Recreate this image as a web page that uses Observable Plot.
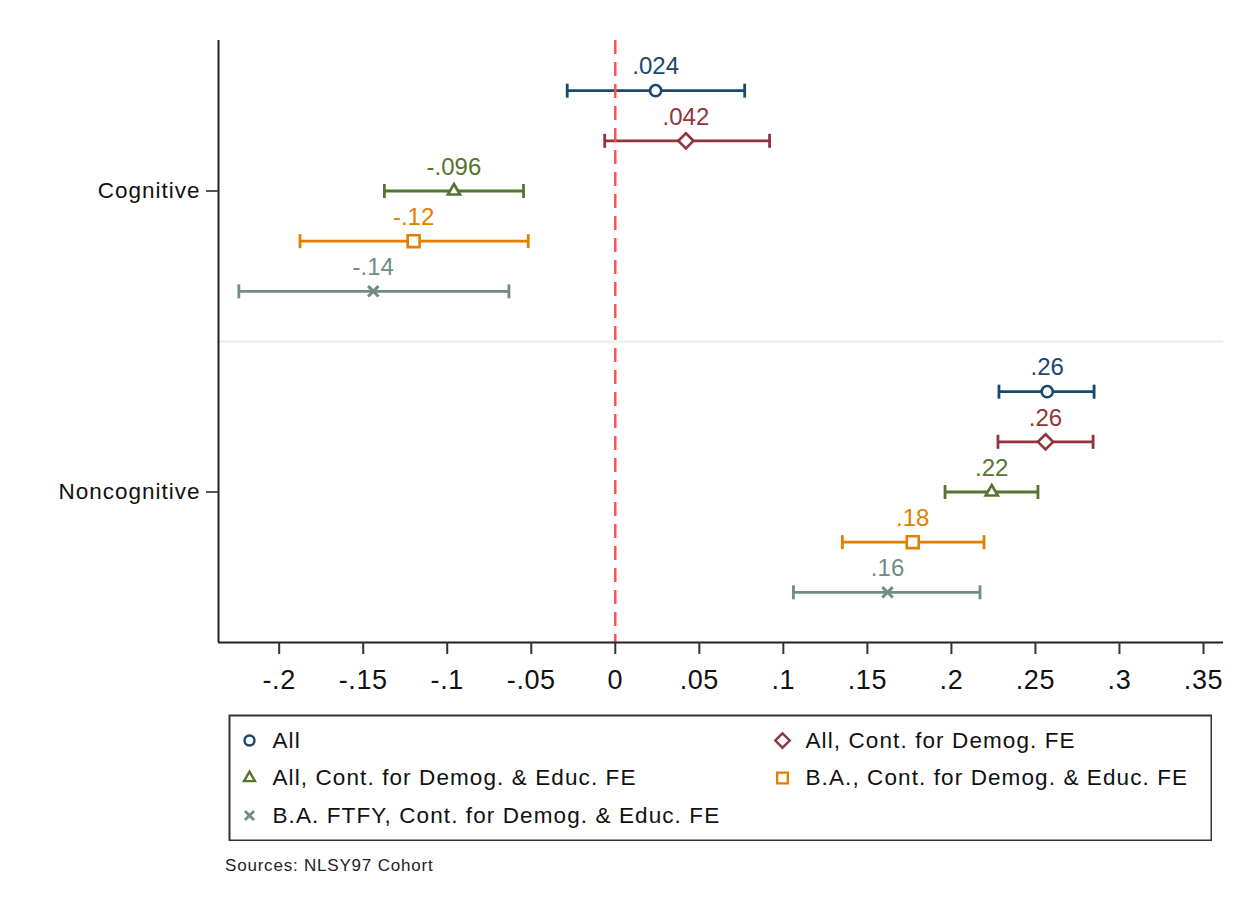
<!DOCTYPE html>
<html>
<head>
<meta charset="utf-8">
<script src="https://cdn.jsdelivr.net/npm/d3@7"></script>
<script src="https://cdn.jsdelivr.net/npm/@observablehq/plot@0.6"></script>
<style>
  body { margin: 0; background: #fff; font-family: "Liberation Sans", Arial, sans-serif; }
  #chart { width: 1250px; }
  #chart [aria-label="y-axis tick label"] text { letter-spacing: 1px; }
  #chart [aria-label="x-axis tick label"] text { letter-spacing: 0.6px; }
  #legend { margin: 9px 0 0 228px; }
  #legend text { letter-spacing: 1.1px; }
  #source { margin: 15px 0 0 225px; font-size: 17px; color: #222; letter-spacing: 0.8px; }
</style>
</head>
<body>
<div id="chart"></div>
<div id="legend"></div>
<div id="source">Sources: NLSY97 Cohort</div>
<script>
const outcomes = ["Cognitive", "Noncognitive"];
const series = [
  "All",
  "All, Cont. for Demog. FE",
  "All, Cont. for Demog. & Educ. FE",
  "B.A., Cont. for Demog. & Educ. FE",
  "B.A. FTFY, Cont. for Demog. & Educ. FE"
];
const colors = ["#1a476f", "#90353b", "#55752f", "#e37e00", "#6e8e84"];
const symbols = ["circle", "diamond2", "triangle2", "square2", "times"];
const symbolR = [5.6, 6.8, 5.8, 7.6, 4.8];
const legendR = [5, 6.5, 5.2, 6.8, 4.2];

// point estimates and 95% CI
const cogEst = [0.024, 0.042, -0.096, -0.120, -0.144];
const cogLo  = [-0.0286, -0.0063, -0.1374, -0.1876, -0.2240];
const cogHi  = [0.0770, 0.0918, -0.0546, -0.0518, -0.0633];
const nonEst = [0.257, 0.256, 0.224, 0.177, 0.162];
const nonLo  = [0.2283, 0.2277, 0.1962, 0.1351, 0.1060];
const nonHi  = [0.2849, 0.2843, 0.2515, 0.2194, 0.2170];

const xTicks = [-0.2, -0.15, -0.1, -0.05, 0, 0.05, 0.1, 0.15, 0.2, 0.25, 0.3, 0.35];
const xDomain = [-0.2361, 0.3619];
const yDomain = [-3, 9];

// stata style numbers: no leading zero, plain hyphen
const stata = v => v === 0 ? "0" : d3.format(".2")(v).replace("−", "-").replace("0.", ".");

const rows = [];
outcomes.forEach((o, oi) => {
  const est = oi ? nonEst : cogEst, lo = oi ? nonLo : cogLo, hi = oi ? nonHi : cogHi;
  series.forEach((s, si) => {
    rows.push({outcome: o, series: s, si, est: est[si], lo: lo[si], hi: hi[si], pos: oi * 6 + si - 2});
  });
});

const capSymbol = {
  draw(ctx, size) {
    const h = Math.sqrt(size / Math.PI);
    ctx.moveTo(0, -h);
    ctx.lineTo(0, h);
  }
};

const markerMarks = (data, xKey, yKey, sw, radii) => series.map((s, si) =>
  Plot.dot(data.filter(d => d.series === s), {
    x: xKey, y: yKey, symbol: "series", r: radii[si],
    stroke: "series", fill: "white", strokeWidth: si === 4 ? sw + 0.4 : sw
  })
);

const chart = Plot.plot({
  width: 1250,
  height: 705,
  marginTop: 40,
  marginBottom: 63,
  marginLeft: 218,
  marginRight: 27,
  style: {fontFamily: "'Liberation Sans', Arial, sans-serif", background: "white", color: "#111"},
  x: {domain: xDomain},
  y: {domain: yDomain, reverse: true},
  color: {domain: series, range: colors},
  symbol: {domain: series, range: symbols},
  marks: [
    Plot.ruleY([3], {stroke: "#e4edf0", strokeWidth: 2}),
    Plot.ruleY(rows, {y: "pos", x1: "lo", x2: "hi", stroke: "series", strokeWidth: 2.8}),
    Plot.dot(rows, {x: "lo", y: "pos", symbol: capSymbol, r: 7, stroke: "series", strokeWidth: 2.8}),
    Plot.dot(rows, {x: "hi", y: "pos", symbol: capSymbol, r: 7, stroke: "series", strokeWidth: 2.8}),
    ...markerMarks(rows, "est", "pos", 2.6, symbolR),
    Plot.ruleX([0], {stroke: "#ff4d4d", strokeWidth: 2.4, strokeDasharray: "14,8"}),
    Plot.text(rows, {x: "est", y: "pos", text: d => stata(d.est), fill: "series", dy: -24, fontSize: 24}),
    Plot.ruleX([xDomain[0]], {stroke: "#222", strokeWidth: 2}),
    Plot.ruleY([yDomain[1]], {stroke: "#222", strokeWidth: 2}),
    Plot.axisX({ticks: xTicks, tickFormat: stata, tickSize: 12, tickPadding: 15, fontSize: 27, label: null, stroke: "#333", strokeWidth: 2}),
    Plot.axisY({ticks: [0, 6], tickFormat: v => outcomes[v / 6], tickSize: 12, tickPadding: 6, fontSize: 22.5, label: null, stroke: "#555", strokeWidth: 2})
  ]
});
d3.select("#chart").append(() => chart);

// legend, two columns in a box
const legendRows = series.map((s, i) => ({series: s, col: i % 2, row: Math.floor(i / 2)}));
const legend = Plot.plot({
  width: 984,
  height: 127,
  margin: 1,
  style: {fontFamily: "'Liberation Sans', Arial, sans-serif", background: "white", color: "#111"},
  x: {domain: [0, 1], range: [21, 554], axis: null},
  y: {domain: [0, 2], range: [26, 101], axis: null},
  color: {domain: series, range: colors},
  symbol: {domain: series, range: symbols},
  marks: [
    Plot.frame({stroke: "#333", strokeWidth: 2}),
    ...markerMarks(legendRows, "col", "row", 2.4, legendR),
    Plot.text(legendRows, {x: "col", y: "row", text: "series", dx: 23, textAnchor: "start", fontSize: 22.5, fill: "#111"})
  ]
});
d3.select("#legend").append(() => legend);
</script>
</body>
</html>
